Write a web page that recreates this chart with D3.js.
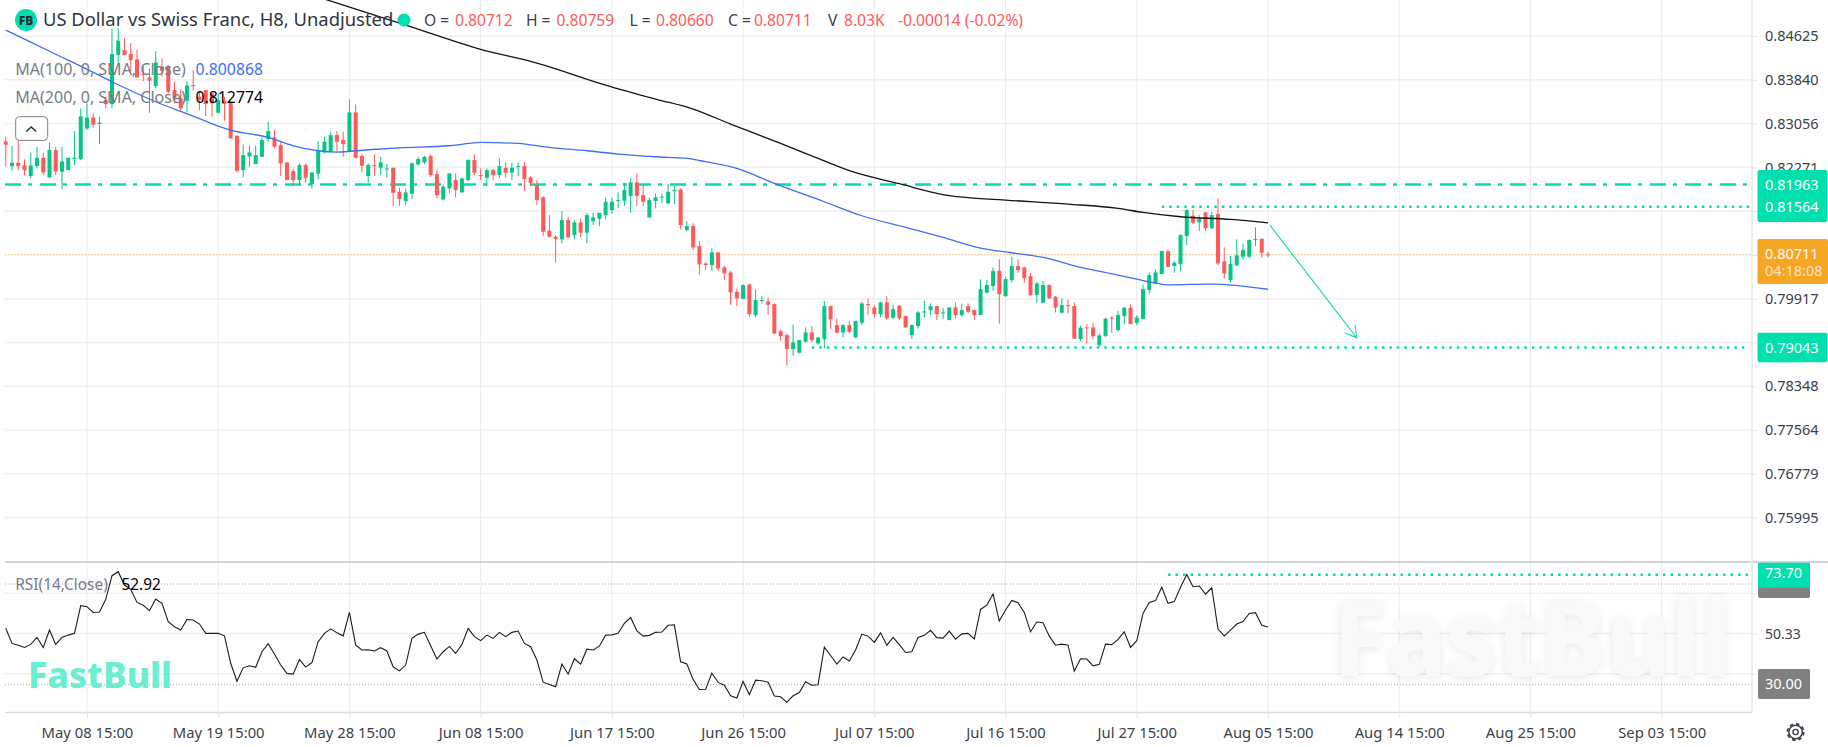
<!DOCTYPE html>
<html>
<head>
<meta charset="utf-8">
<script src="https://cdn.jsdelivr.net/npm/d3@7"></script>
<style>
  html, body { margin: 0; padding: 0; background: #fff; }
  svg { display: block; }
  text { font-family: "Noto Sans", sans-serif; }
</style>
</head>
<body>
<svg id="chart" width="1828" height="747"></svg>
<script>
const opens = [0.82736,0.82294,0.82354,0.82306,0.82115,0.82294,0.82443,0.82091,0.82581,0.82192,
0.82222,0.82419,0.82419,0.82969,0.83166,0.83047,0.83477,0.83405,0.84283,0.84373,
0.84301,0.84206,0.83943,0.83883,0.83728,0.84074,0.84074,0.83656,0.83507,0.83465,
0.83746,0.83537,0.83656,0.83596,0.83250,0.83465,0.83447,0.82838,0.82222,0.82467,
0.82330,0.82461,0.82778,0.82808,0.82670,0.82360,0.82204,0.82043,0.82312,0.81971,
0.82157,0.82539,0.82557,0.82850,0.82760,0.82563,0.83256,0.82473,0.82115,0.82312,
0.82264,0.82240,0.82264,0.81834,0.81667,0.81798,0.82324,0.82360,0.82473,0.82151,
0.81697,0.81894,0.82043,0.81822,0.82043,0.82402,0.82133,0.82085,0.82222,0.82133,
0.82264,0.82175,0.82282,0.82294,0.82091,0.81954,0.81733,0.81135,0.81028,0.80980,
0.81326,0.81058,0.81285,0.81099,0.81308,0.81350,0.81416,0.81506,0.81673,0.81673,
0.81757,0.82001,0.81774,0.81374,0.81667,0.81733,0.81625,0.81852,0.81876,0.81147,
0.81219,0.80860,0.80550,0.80520,0.80747,0.80478,0.80388,0.80042,0.79917,0.80173,
0.79624,0.79875,0.79869,0.79821,0.79337,0.79265,0.79015,0.78949,0.79146,0.79313,
0.79116,0.79194,0.79785,0.79445,0.79313,0.79445,0.79223,0.79486,0.79821,0.79761,
0.79642,0.79851,0.79576,0.79791,0.79606,0.79265,0.79427,0.79672,0.79713,0.79785,
0.79654,0.79534,0.79761,0.79624,0.79785,0.79713,0.79624,0.80024,0.80144,0.80418,
0.79964,0.80251,0.80502,0.80478,0.80323,0.79982,0.79845,0.80162,0.79952,0.79666,
0.79803,0.79785,0.79194,0.79403,0.79403,0.79086,0.79247,0.79576,0.79355,0.79606,
0.79755,0.79486,0.79552,0.80072,0.80191,0.80359,0.80765,0.80502,0.80538,0.81040,
0.81404,0.81285,0.81464,0.81183,0.81434,0.80586,0.80251,0.80514,0.80669,0.80669,
0.80974,0.80992,0.80712];
const highs = [0.82820,0.82658,0.82760,0.82413,0.82539,0.82640,0.82533,0.82718,0.82640,0.82640,
0.82443,0.82921,0.83327,0.83417,0.83250,0.83178,0.83537,0.84761,0.84761,0.84582,
0.84492,0.84373,0.84074,0.84044,0.84355,0.84224,0.84104,0.83805,0.83668,0.83817,
0.84014,0.83626,0.83656,0.83596,0.83596,0.83537,0.83447,0.82838,0.82682,0.82658,
0.82658,0.82808,0.83088,0.82939,0.82730,0.82360,0.82252,0.82342,0.82342,0.82180,
0.82742,0.82820,0.82909,0.82927,0.82909,0.83489,0.83399,0.82509,0.82342,0.82503,
0.82461,0.82330,0.82264,0.81906,0.81894,0.82360,0.82461,0.82479,0.82503,0.82222,
0.81965,0.82163,0.82163,0.82091,0.82414,0.82503,0.82252,0.82252,0.82240,0.82432,
0.82360,0.82354,0.82354,0.82366,0.82115,0.82043,0.81757,0.81416,0.81058,0.81488,
0.81386,0.81326,0.81356,0.81458,0.81458,0.81458,0.81727,0.81727,0.81822,0.81995,
0.82073,0.82163,0.81954,0.81733,0.81804,0.81804,0.81972,0.81936,0.81894,0.81308,
0.81267,0.80950,0.80568,0.80819,0.80747,0.80508,0.80418,0.80102,0.80173,0.80191,
0.80084,0.79964,0.79940,0.79833,0.79367,0.79295,0.79456,0.79176,0.79403,0.79427,
0.79235,0.79875,0.79785,0.79564,0.79463,0.79522,0.79522,0.79863,0.79923,0.79803,
0.79863,0.79964,0.79815,0.79800,0.79606,0.79457,0.79696,0.79881,0.79833,0.79785,
0.79755,0.79761,0.79851,0.79833,0.79833,0.79725,0.80263,0.80251,0.80478,0.80622,
0.80311,0.80669,0.80622,0.80490,0.80383,0.80221,0.80233,0.80174,0.79970,0.79923,
0.79905,0.79851,0.79433,0.79463,0.79486,0.79295,0.79582,0.79606,0.79696,0.79773,
0.79815,0.79624,0.80174,0.80389,0.80442,0.80771,0.80801,0.80598,0.81070,0.81518,
0.81506,0.81416,0.81476,0.81476,0.81715,0.80837,0.80681,0.80980,0.80908,0.80980,
0.81195,0.80992,0.80759];
const lows = [0.82282,0.82210,0.82222,0.82133,0.82073,0.82252,0.82133,0.82073,0.82133,0.81876,
0.82222,0.82312,0.82401,0.82939,0.82987,0.82688,0.83327,0.83327,0.84104,0.84283,
0.83985,0.83883,0.83817,0.83250,0.83686,0.83895,0.83596,0.83417,0.83286,0.83268,
0.83644,0.83300,0.83190,0.83178,0.83238,0.83106,0.82790,0.82174,0.82091,0.82282,
0.82330,0.82461,0.82730,0.82611,0.82115,0.82043,0.81935,0.81971,0.81995,0.81888,
0.82061,0.82521,0.82533,0.82551,0.82461,0.82551,0.82431,0.82180,0.81995,0.82121,
0.82133,0.82091,0.81577,0.81577,0.81595,0.81703,0.82300,0.82330,0.82103,0.81715,
0.81685,0.81804,0.81733,0.81816,0.82025,0.82133,0.82043,0.81936,0.82043,0.82085,
0.82085,0.82043,0.82115,0.81846,0.81936,0.81595,0.81040,0.81010,0.80568,0.80908,
0.81004,0.80980,0.81016,0.80908,0.81237,0.81219,0.81338,0.81446,0.81535,0.81577,
0.81458,0.81577,0.81577,0.81368,0.81535,0.81625,0.81613,0.81613,0.81159,0.81135,
0.80789,0.80341,0.80430,0.80412,0.80412,0.80251,0.79809,0.79785,0.79905,0.79594,
0.79582,0.79833,0.79624,0.79283,0.79164,0.78728,0.78895,0.78937,0.79134,0.79134,
0.79086,0.79026,0.79373,0.79295,0.79223,0.79295,0.79217,0.79445,0.79624,0.79582,
0.79582,0.79534,0.79552,0.79534,0.79397,0.79200,0.79379,0.79582,0.79624,0.79534,
0.79558,0.79534,0.79564,0.79594,0.79666,0.79534,0.79624,0.80012,0.80060,0.79469,
0.79952,0.80203,0.80383,0.80203,0.79964,0.79845,0.79845,0.79911,0.79672,0.79654,
0.79654,0.79200,0.79158,0.79116,0.79194,0.79056,0.79235,0.79307,0.79325,0.79463,
0.79463,0.79445,0.79552,0.79998,0.80191,0.80359,0.80478,0.80383,0.80412,0.80878,
0.81255,0.81129,0.81129,0.81165,0.80520,0.80275,0.80209,0.80502,0.80610,0.80651,
0.80860,0.80657,0.80660];
const closes = [0.82676,0.82354,0.82294,0.82222,0.82306,0.82443,0.82180,0.82581,0.82198,0.82378,
0.82443,0.82443,0.83184,0.83166,0.83035,0.83071,0.83405,0.84301,0.84540,0.84283,
0.84194,0.83883,0.83925,0.83823,0.84152,0.84003,0.83626,0.83507,0.83327,0.83740,
0.83728,0.83477,0.83405,0.83417,0.83477,0.83405,0.82790,0.82210,0.82491,0.82539,
0.82491,0.82760,0.82921,0.82640,0.82342,0.82043,0.82043,0.82312,0.82085,0.82180,
0.82569,0.82730,0.82850,0.82730,0.82688,0.83256,0.82443,0.82300,0.82312,0.82300,
0.82360,0.82252,0.81816,0.81703,0.81822,0.82342,0.82419,0.82461,0.82133,0.81774,
0.81924,0.82163,0.81864,0.82073,0.82402,0.82175,0.82115,0.82222,0.82133,0.82294,
0.82175,0.82264,0.82294,0.82061,0.81995,0.81685,0.81117,0.81028,0.80986,0.81326,
0.81016,0.81285,0.81099,0.81416,0.81374,0.81458,0.81655,0.81655,0.81685,0.81864,
0.82001,0.81757,0.81655,0.81685,0.81733,0.81745,0.81834,0.81864,0.81237,0.81219,
0.80837,0.80532,0.80520,0.80747,0.80460,0.80370,0.80030,0.79923,0.80161,0.79642,
0.79893,0.79893,0.79809,0.79295,0.79247,0.79015,0.79134,0.79176,0.79313,0.79176,
0.79223,0.79785,0.79546,0.79307,0.79445,0.79325,0.79516,0.79833,0.79809,0.79642,
0.79851,0.79564,0.79731,0.79564,0.79403,0.79445,0.79672,0.79690,0.79785,0.79642,
0.79672,0.79761,0.79624,0.79713,0.79684,0.79624,0.80090,0.80162,0.80412,0.79998,
0.80269,0.80502,0.80430,0.80287,0.79982,0.80191,0.80162,0.79923,0.79755,0.79803,
0.79791,0.79200,0.79397,0.79385,0.79247,0.79259,0.79558,0.79564,0.79624,0.79755,
0.79463,0.79582,0.80090,0.80341,0.80389,0.80771,0.80490,0.80562,0.81058,0.81506,
0.81279,0.81344,0.81177,0.81416,0.80550,0.80371,0.80538,0.80693,0.80789,0.80968,
0.80986,0.80741,0.80711];

// moving averages at these bars
const ma100Bars = [0,4,8,12,17,24,30,34,36,42,46,50,53,58,63,71,74,76,82,84,87,93,98,104,109,112,117,123,131,137,144,150,156,161,166,172,178,183,186,193,202];
const ma100Vals = [0.84731,0.84516,0.84298,0.84086,0.83805,0.83447,0.83190,0.83011,0.82939,0.82808,0.82658,0.82569,0.82545,0.82587,0.82622,0.82658,0.82700,0.82718,0.82700,0.82675,0.82629,0.82569,0.82509,0.82461,0.82432,0.82372,0.82252,0.81984,0.81655,0.81404,0.81195,0.81016,0.80825,0.80741,0.80657,0.80478,0.80341,0.80221,0.80167,0.80179,0.80087];
const ma200Bars = [51,64,76,85,96,104,110,116,124,130,135,143,151,160,170,178,182,188,196,202];
const ma200Vals = [0.85287,0.84821,0.84386,0.84140,0.83746,0.83495,0.83316,0.83047,0.82700,0.82432,0.82211,0.81978,0.81763,0.81685,0.81613,0.81536,0.81464,0.81386,0.81338,0.81277];

const rsiVals = [52.4,46.4,45.7,44.8,46.0,48.8,44.8,51.7,46.0,48.8,49.7,50.4,61.4,61.0,58.7,58.9,63.9,73.3,74.9,69.6,
67.9,62.7,61.6,59.4,64.0,62.3,55.0,53.0,51.7,55.9,55.7,54.1,50.4,50.4,50.4,49.4,38.5,31.4,36.7,37.5,
36.9,43.1,46.3,42.2,37.8,34.5,34.2,40.0,37.0,38.8,47.1,50.4,52.2,50.6,49.4,58.7,45.7,43.8,43.9,43.4,
44.7,43.4,37.1,35.5,37.8,48.4,50.1,50.8,45.5,40.2,43.1,45.2,42.4,46.0,52.4,49.1,47.5,49.7,48.4,50.8,
49.1,50.8,51.3,46.4,45.1,39.8,31.0,30.1,29.2,38.2,34.2,40.3,38.2,44.1,43.8,45.3,49.7,49.8,50.4,54.4,
56.7,51.4,49.3,49.6,50.8,50.9,53.6,53.8,39.1,38.2,32.1,28.1,28.2,34.6,30.9,29.8,25.6,24.7,31.3,26.0,
31.8,31.6,31.0,25.5,25.2,23.0,25.6,26.9,31.2,29.8,30.0,44.9,41.6,38.2,41.0,39.4,43.8,50.1,49.3,46.8,
50.6,45.7,48.8,45.9,42.8,43.1,48.8,49.6,51.6,48.7,48.5,51.3,48.1,50.2,50.4,48.2,59.9,61.6,66.0,55.3,
59.7,63.5,62.6,58.7,51.0,54.9,54.6,49.3,45.7,46.1,45.7,35.4,40.3,40.2,37.5,38.1,46.1,45.9,48.0,51.0,
44.8,47.5,58.3,62.7,63.4,68.7,62.3,63.0,68.7,73.8,68.9,69.2,66.0,68.5,52.1,49.4,51.7,54.1,55.1,58.3,
58.6,53.6,52.92];

const priceTicks = [0.84625,0.83840,0.83056,0.82271,0.81487,0.80702,0.79917,0.79133,0.78348,0.77564,0.76779,0.75995];
const priceTicksUnderTags = [0.81487,0.80702,0.79133];
const rsiTicks = [66.32,50.33,34.34];
const rsiTicksUnderTags = [66.32];
const rsiBands = [70,30];
const timeBars = [13,34,55,76,97,118,139,160,181,202,223,244,265];
const timeLabels = ["May 08 15:00","May 19 15:00","May 28 15:00","Jun 08 15:00","Jun 17 15:00","Jun 26 15:00","Jul 07 15:00","Jul 16 15:00","Jul 27 15:00","Aug 05 15:00","Aug 14 15:00","Aug 25 15:00","Sep 03 15:00"];

const resistance = 0.81963;
const swingHigh = 0.81564, swingHighBar = 185;
const swingLow = 0.79043, swingLowBar = 129;
const lastPrice = 0.80711;
const rsiHigh = 73.70, rsiHighBar = 186;
const arrowBars = [202.3, 216.2];
const arrowPrices = [0.81237, 0.79217];

const GREEN = "#08c587", RED = "#ff5a5a", TEAL = "#00e0ae", AXIS = "#e6e6e6", INK = "#3a3f4b";
const left = 5, axisX = 1752;

const svg = d3.select("#chart");
const x = d3.scaleLinear().domain([0, 202]).range([5.75, 1268]);
const y = d3.scaleLinear().domain([0.84625, 0.75995]).range([36, 517.6]);
const yRsi = d3.scaleLinear().domain([70, 30]).range([584, 684.7]);

// grid
svg.append("g").selectAll("line").data(priceTicks).join("line")
  .attr("x1", left).attr("x2", axisX).attr("y1", d => y(d)).attr("y2", d => y(d))
  .attr("stroke", "#f0f0f0").attr("stroke-width", 1.5);
svg.append("g").selectAll("line").data(rsiTicks).join("line")
  .attr("x1", left).attr("x2", axisX).attr("y1", d => yRsi(d)).attr("y2", d => yRsi(d))
  .attr("stroke", "#f0f0f0").attr("stroke-width", 1.5);
svg.append("g").selectAll("line").data(timeBars).join("line")
  .attr("x1", d => x(d)).attr("x2", d => x(d)).attr("y1", 0).attr("y2", 712)
  .attr("stroke", "#ebebeb").attr("stroke-width", 1);

// large watermark
svg.append("defs").append("filter").attr("id", "soft")
  .attr("x", "-10%").attr("y", "-20%").attr("width", "120%").attr("height", "140%")
  .append("feDropShadow").attr("dx", 0).attr("dy", 2).attr("stdDeviation", 5)
  .attr("flood-color", "#000").attr("flood-opacity", 0.09);
svg.append("text").attr("x", 1333).attr("y", 676).attr("textLength", 398)
  .attr("lengthAdjust", "spacingAndGlyphs")
  .attr("font-size", 106).attr("font-weight", 800).attr("fill", "#f9f9f9")
  .attr("filter", "url(#soft)").text("FastBull");

// rsi pane frame and bands
svg.selectAll(".band").data(rsiBands).join("line").attr("class", "band")
  .attr("x1", left).attr("x2", axisX).attr("y1", d => yRsi(d)).attr("y2", d => yRsi(d))
  .attr("stroke", "#a6a6a6").attr("stroke-width", 1).attr("stroke-dasharray", "1 2");
svg.append("line").attr("x1", left).attr("x2", 1828).attr("y1", 562).attr("y2", 562)
  .attr("stroke", "#c3c6cc").attr("stroke-width", 1.5);
svg.append("line").attr("x1", left).attr("x2", axisX).attr("y1", 712.5).attr("y2", 712.5)
  .attr("stroke", "#dedede").attr("stroke-width", 1.5);
svg.append("line").attr("x1", axisX).attr("x2", axisX).attr("y1", 0).attr("y2", 712.5)
  .attr("stroke", AXIS).attr("stroke-width", 1.5);

// last price and levels
svg.append("line").attr("x1", left).attr("x2", axisX).attr("y1", y(lastPrice)).attr("y2", y(lastPrice))
  .attr("stroke", "#f5a623").attr("stroke-opacity", 0.7).attr("stroke-width", 1).attr("stroke-dasharray", "1 2.2");
svg.append("line").attr("x1", left).attr("x2", 1748).attr("y1", y(resistance)).attr("y2", y(resistance))
  .attr("stroke", TEAL).attr("stroke-width", 2.5).attr("stroke-dasharray", "16 7 4 8");

// candles
const bars = svg.append("g").selectAll("g").data(opens).join("g");
bars.append("line")
  .attr("x1", (d, i) => x(i)).attr("x2", (d, i) => x(i))
  .attr("y1", (d, i) => y(highs[i])).attr("y2", (d, i) => y(lows[i]))
  .attr("stroke", (d, i) => closes[i] >= d ? GREEN : RED).attr("stroke-width", 1);
bars.append("rect")
  .attr("x", (d, i) => x(i) - 2).attr("width", 4)
  .attr("y", (d, i) => y(Math.max(d, closes[i])))
  .attr("height", (d, i) => Math.max(1, Math.abs(y(d) - y(closes[i]))))
  .attr("fill", (d, i) => closes[i] >= d ? GREEN : RED);

svg.append("line").attr("x1", x(swingHighBar)).attr("x2", 1752).attr("y1", y(swingHigh)).attr("y2", y(swingHigh))
  .attr("stroke", TEAL).attr("stroke-width", 2.5).attr("stroke-dasharray", "2.5 5");
svg.append("line").attr("x1", x(swingLowBar)).attr("x2", 1748).attr("y1", y(swingLow)).attr("y2", y(swingLow))
  .attr("stroke", TEAL).attr("stroke-width", 2.5).attr("stroke-dasharray", "2.5 5");

// moving averages
const priceLine = d3.line().x(d => x(d[0])).y(d => y(d[1])).curve(d3.curveMonotoneX);
svg.append("path").attr("d", priceLine(d3.zip(ma100Bars, ma100Vals)))
  .attr("fill", "none").attr("stroke", "#3d6ff0").attr("stroke-width", 1.3);
svg.append("path").attr("d", priceLine(d3.zip(ma200Bars, ma200Vals)))
  .attr("fill", "none").attr("stroke", "#141414").attr("stroke-width", 1.3);

// projected move arrow
const ax0 = x(arrowBars[0]), ay0 = y(arrowPrices[0]), ax1 = x(arrowBars[1]), ay1 = y(arrowPrices[1]);
const ang = Math.atan2(ay1 - ay0, ax1 - ax0);
const head = [ang + 0.52, ang - 0.52].map(a => [ax1 - 13 * Math.cos(a), ay1 - 13 * Math.sin(a)]);
svg.append("path")
  .attr("d", `M${ax0},${ay0}L${ax1},${ay1}M${head[0]}L${ax1},${ay1}L${head[1]}`)
  .attr("fill", "none").attr("stroke", "#18d8ae").attr("stroke-width", 1.1);

// rsi line
svg.append("path")
  .attr("d", d3.line().x((d, i) => x(i)).y(d => yRsi(d))(rsiVals))
  .attr("fill", "none").attr("stroke", "#1c1c1c").attr("stroke-width", 1.1);
svg.append("line").attr("x1", x(rsiHighBar)).attr("x2", 1750).attr("y1", yRsi(rsiHigh)).attr("y2", yRsi(rsiHigh))
  .attr("stroke", TEAL).attr("stroke-width", 2.5).attr("stroke-dasharray", "2.5 5");

// small brand mark
svg.append("text").attr("x", 28).attr("y", 688).attr("textLength", 144)
  .attr("lengthAdjust", "spacingAndGlyphs")
  .attr("font-size", 36).attr("font-weight", 800).attr("fill", "#6beed0").text("FastBull");

// axes, labels that sit under a value tag are left out
function styleAxis(g) {
  g.select(".domain").remove();
  g.selectAll("line").attr("stroke", AXIS).attr("stroke-width", 1);
  g.selectAll("text").attr("fill", INK).style("font-family", '"Noto Sans", sans-serif');
}
svg.append("g").attr("transform", `translate(${axisX},0)`)
  .call(d3.axisRight(y).tickValues(priceTicks)
    .tickFormat(d => priceTicksUnderTags.includes(d) ? "" : d3.format(".5f")(d)).tickSize(5).tickPadding(8))
  .call(styleAxis).style("font-size", "14.5px");
svg.append("g").attr("transform", `translate(${axisX},0)`)
  .call(d3.axisRight(yRsi).tickValues(rsiTicks)
    .tickFormat(d => rsiTicksUnderTags.includes(d) ? "" : d3.format(".2f")(d)).tickSize(5).tickPadding(8))
  .call(styleAxis).style("font-size", "14px");
svg.append("g").attr("transform", "translate(0,712)")
  .call(d3.axisBottom(x).tickValues(timeBars).tickFormat((d, i) => timeLabels[i]).tickSize(6).tickPadding(9))
  .call(styleAxis).style("font-size", "14.8px");

// right side value tags
function tag(x0, y0, w, h, fill) {
  svg.append("rect").attr("x", x0).attr("y", y0).attr("width", w).attr("height", h).attr("rx", 2).attr("fill", fill);
}
function tagText(txt, cy, opacity) {
  svg.append("text").attr("x", 1765).attr("y", cy).attr("dy", "0.35em").attr("font-size", 14.5)
    .attr("fill", "#fff").attr("fill-opacity", opacity || 1).text(txt);
}
tag(1757.5, 170, 70, 52, TEAL);
tagText(d3.format(".5f")(resistance), y(resistance));
tagText(d3.format(".5f")(swingHigh), y(swingHigh));
tag(1757.5, 239, 70.5, 45, "#f5a623");
tagText(d3.format(".5f")(lastPrice), y(lastPrice));
tagText("04:18:08", 270.5, 0.72);
tag(1757.5, 332.7, 70, 29.5, TEAL);
tagText(d3.format(".5f")(swingLow), y(swingLow));
tag(1758, 571, 52, 27, "#808080");
svg.append("rect").attr("x", 1758).attr("y", 562.7).attr("width", 52).attr("height", 25).attr("fill", TEAL);
tagText(rsiHigh.toFixed(2), 573);
tag(1758, 669, 52, 30, "#808080");
tagText(rsiBands[1].toFixed(2), 683.5);

// legend
svg.append("circle").attr("cx", 26).attr("cy", 20).attr("r", 11).attr("fill", TEAL);
svg.append("text").attr("x", 26).attr("y", 24.5).attr("text-anchor", "middle").attr("font-size", 12)
  .attr("font-weight", 800).attr("fill", "#1f2430").text("FB");
svg.append("text").attr("x", 43).attr("y", 26.3).attr("font-size", 18.4).attr("fill", "#2f3442")
  .text("US Dollar vs Swiss Franc, H8, Unadjusted");
svg.append("circle").attr("cx", 404).attr("cy", 20).attr("r", 6.5).attr("fill", TEAL);

const quoteLabels = [["O =", 424], ["H =", 526], ["L =", 629.5], ["C =", 728], ["V", 828]];
const quoteValues = [["0.80712", 455], ["0.80759", 556.5], ["0.80660", 656], ["0.80711", 754], ["8.03K", 844], ["-0.00014 (-0.02%)", 898]];
svg.selectAll(".qlabel").data(quoteLabels).join("text").attr("class", "qlabel")
  .attr("x", d => d[1]).attr("y", 25.5).attr("font-size", 15.6).attr("fill", INK).text(d => d[0]);
svg.selectAll(".qvalue").data(quoteValues).join("text").attr("class", "qvalue")
  .attr("x", d => d[1]).attr("y", 25.5).attr("font-size", 15.6).attr("fill", RED).text(d => d[0]);

const maLegend = [["MA(100, 0, SMA, Close)", "0.800868", "#3d6ff0", 69], ["MA(200, 0, SMA, Close)", "0.812774", "#000", 97.5]];
maLegend.forEach(d => {
  svg.append("text").attr("x", 15.3).attr("y", d[3]).attr("dy", "0.35em").attr("font-size", 16).attr("fill", "#787b86").text(d[0]);
  svg.append("text").attr("x", 195.5).attr("y", d[3]).attr("dy", "0.35em").attr("font-size", 15.8).attr("fill", d[2]).text(d[1]);
});
svg.append("rect").attr("x", 15.7).attr("y", 116.7).attr("width", 32).attr("height", 23.7).attr("rx", 4)
  .attr("fill", "#fff").attr("stroke", "#7c7f88").attr("stroke-width", 1);
svg.append("path").attr("d", "M26.2,131.5L31.2,127L36.2,131.5").attr("fill", "none").attr("stroke", "#2f3442").attr("stroke-width", 1.6);

svg.append("text").attr("x", 15.3).attr("y", 585).attr("dy", "0.35em").attr("font-size", 15.4).attr("fill", "#787b86").text("RSI(14,Close)");
svg.append("text").attr("x", 121.5).attr("y", 585).attr("dy", "0.35em").attr("font-size", 15.4).attr("fill", "#000").text("52.92");

// settings gear
const gear = svg.append("g").attr("transform", "translate(1795.6,732)").attr("fill", "none").attr("stroke", "#3a3f4b");
gear.append("circle").attr("r", 6.8).attr("stroke-width", 1.5);
gear.append("circle").attr("r", 8.1).attr("stroke-width", 1.8).attr("stroke-dasharray", "3.4 3");
gear.append("circle").attr("r", 2.6).attr("stroke-width", 1.4);
</script>
</body>
</html>
